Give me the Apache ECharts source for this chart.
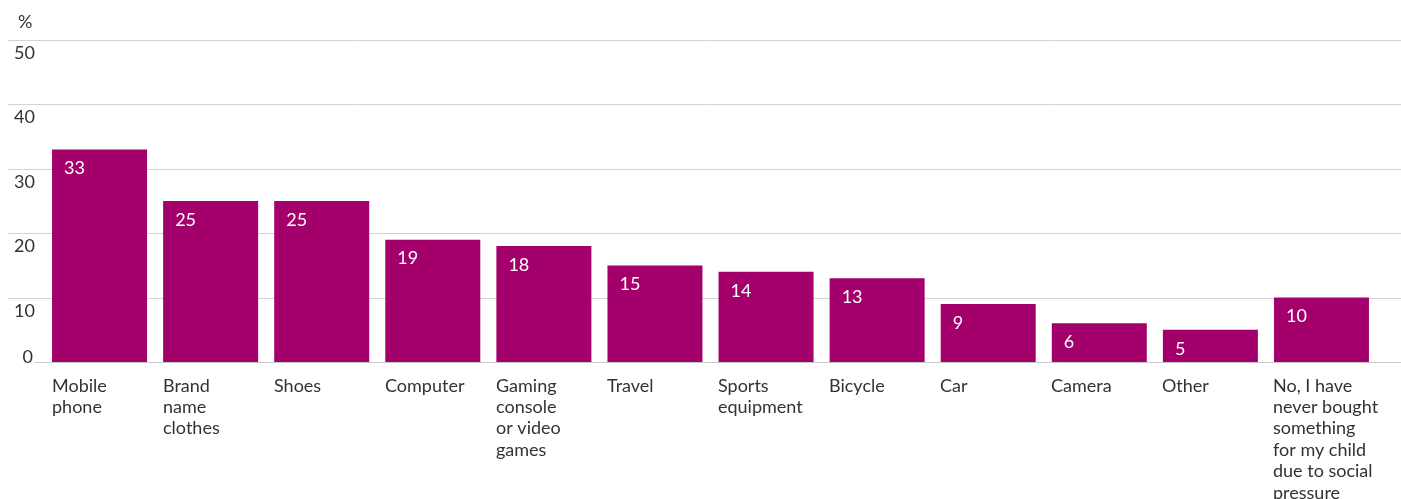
<!DOCTYPE html>
<html>
<head>
<meta charset="utf-8">
<script src="https://cdn.jsdelivr.net/npm/echarts@6/dist/echarts.min.js"></script>
<style>
  html, body { margin: 0; padding: 0; background: #fff; }
  #chart { width: 1401px; height: 499px; }
</style>
</head>
<body>
<div id="chart"></div>
<script>
// Items bought for a child due to social pressure (%)
const categories = [
  'Mobile\nphone',
  'Brand\nname\nclothes',
  'Shoes',
  'Computer',
  'Gaming\nconsole\nor video\ngames',
  'Travel',
  'Sports\nequipment',
  'Bicycle',
  'Car',
  'Camera',
  'Other',
  'No, I have\nnever bought\nsomething\nfor my child\ndue to social\npressure'
];
const values = [33, 25, 25, 19, 18, 15, 14, 13, 9, 6, 5, 10];
const yTicks = [0, 10, 20, 30, 40, 50];
const unitLabel = '%';

const FONT = 'Lato';
const TEXT = '#333333';
const BAR = '#a3006b';
const GRID_LINE = '#d4d4d4';

const chart = echarts.init(document.getElementById('chart'), null, { renderer: 'canvas' });

const yMin = yTicks[0];
const yMax = yTicks[yTicks.length - 1];
const yStep = yTicks[1] - yTicks[0];

// grids keep their exact rectangles; labels may run past the canvas edge
const fixedGrid = (g) => Object.assign({ containLabel: false, outerBoundsMode: 'none' }, g);

chart.setOption({
  animation: false,
  backgroundColor: '#ffffff',
  title: {
    text: unitLabel,
    left: 13,
    top: 8,
    textStyle: { fontFamily: FONT, fontSize: 18, fontWeight: 'normal', color: TEXT }
  },
  grid: [
    // gridlines 10..50 with labels under each line
    fixedGrid({ left: 8, right: 0, top: 40, bottom: 201 }),
    // baseline at zero
    fixedGrid({ left: 35, right: 0, top: 40, bottom: 137 }),
    // bars
    fixedGrid({ left: 44, right: 24, top: 40, bottom: 137 }),
    // category labels, one tick at each bar's left edge
    fixedGrid({ left: 52, right: 128, top: 40, bottom: 137 })
  ],
  xAxis: [
    { gridIndex: 0, type: 'value', show: false },
    {
      gridIndex: 1, type: 'value', min: 0, max: 1,
      axisLine: { show: true, lineStyle: { color: '#c8c8c8', width: 1 } },
      axisTick: { show: false }, axisLabel: { show: false }, splitLine: { show: false }
    },
    {
      gridIndex: 2, type: 'category', data: categories,
      axisLine: { show: false }, axisTick: { show: false }, axisLabel: { show: false }
    },
    {
      gridIndex: 3, type: 'category', data: categories, boundaryGap: false,
      axisLine: { show: false }, axisTick: { show: false },
      axisLabel: {
        interval: 0,
        align: 'left',
        verticalAlign: 'top',
        margin: 13,
        fontFamily: FONT,
        fontSize: 18,
        lineHeight: 21.4,
        color: TEXT
      }
    }
  ],
  yAxis: [
    {
      gridIndex: 0, type: 'value', min: yTicks[1], max: yMax, interval: yStep,
      axisLine: { show: false }, axisTick: { show: false },
      splitLine: { show: true, lineStyle: { color: GRID_LINE, width: 1 } },
      axisLabel: {
        inside: true,
        align: 'right',
        verticalAlign: 'top',
        margin: 27,
        padding: [4, 0, 0, 0],
        fontFamily: FONT,
        fontSize: 18,
        lineHeight: 18,
        color: TEXT
      }
    },
    {
      gridIndex: 1, type: 'value', min: yMin, max: yMax, interval: yStep,
      axisLine: { show: false }, axisTick: { show: false }, splitLine: { show: false },
      axisLabel: {
        formatter: v => (v === yMin ? String(v) : ''),
        align: 'right',
        verticalAlign: 'bottom',
        margin: 2,
        fontFamily: FONT,
        fontSize: 18,
        lineHeight: 10,
        color: TEXT
      }
    },
    {
      gridIndex: 2, type: 'value', min: yMin, max: yMax, interval: yStep,
      show: false
    },
    {
      gridIndex: 3, type: 'value', min: yMin, max: yMax, show: false
    }
  ],
  series: [
    {
      type: 'bar',
      xAxisIndex: 2,
      yAxisIndex: 2,
      data: values,
      barWidth: 95,
      itemStyle: { color: BAR },
      label: {
        show: true,
        position: [12, 10],
        align: 'left',
        verticalAlign: 'top',
        fontFamily: FONT,
        fontSize: 18,
        lineHeight: 18,
        color: '#ffffff'
      }
    }
  ]
});
</script>
</body>
</html>
